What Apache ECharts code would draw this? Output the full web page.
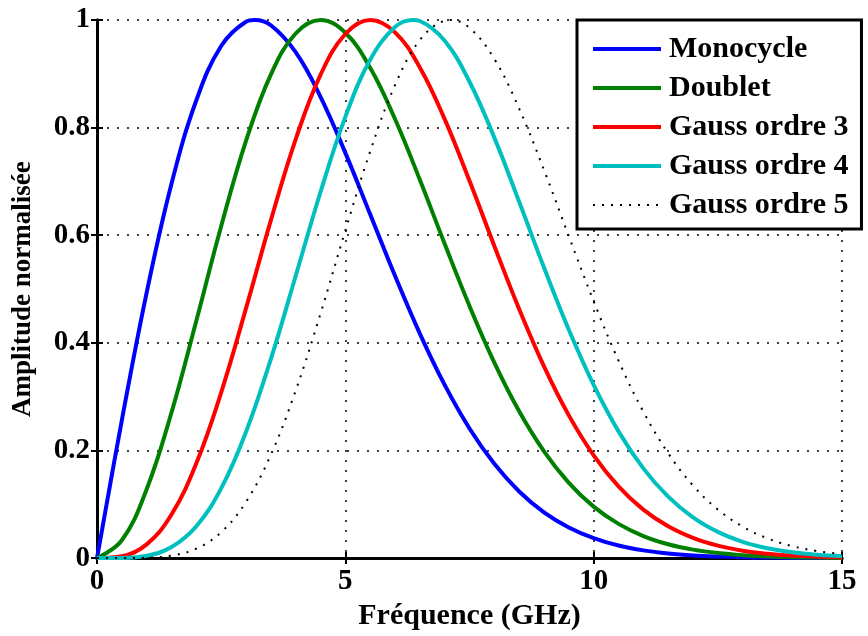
<!DOCTYPE html>
<html>
<head>
<meta charset="utf-8">
<script src="https://cdn.jsdelivr.net/npm/echarts@6/dist/echarts.min.js"></script>
<style>
html,body{margin:0;padding:0;background:#fff;}
#chart{width:868px;height:636px;}
</style>
</head>
<body>
<div id="chart"></div>
<script>
// Frequency (GHz)
var freq = [0,0.5,1,1.5,2,2.5,3,3.5,4,4.5,5,5.5,6,6.5,7,7.5,8,8.5,9,9.5,10,10.5,11,11.5,12,12.5,13,13.5,14,14.5,15];
// Normalised amplitudes
var monocycle = [0,0.2561,0.4935,0.6958,0.8508,0.9516,0.9967,0.9902,0.9402,0.8573,0.7531,0.6390,0.5246,0.4172,0.3218,0.2409,0.1752,0.1238,0.0850,0.0568,0.0369,0.0234,0.0144,0.0086,0.0050,0.0029,0.0016,0.0009,0.0004,0.0002,0.0001];
var doublet = [0,0.0332,0.1279,0.2706,0.4411,0.6167,0.7752,0.8985,0.9749,1.0000,0.9762,0.9111,0.8160,0.7031,0.5840,0.4685,0.3633,0.2728,0.1984,0.1399,0.0957,0.0636,0.0410,0.0257,0.0157,0.0093,0.0053,0.0030,0.0016,0.0009,0.0004];
var gauss3 = [0,0.0033,0.0255,0.0810,0.1761,0.3077,0.4641,0.6276,0.7782,0.8980,0.9740,1.0000,0.9771,0.9119,0.8158,0.7011,0.5801,0.4627,0.3563,0.2652,0.1910,0.1332,0.0900,0.0590,0.0375,0.0231,0.0138,0.0081,0.0046,0.0025,0.0013];
var gauss4 = [0,0.0003,0.0043,0.0205,0.0593,0.1295,0.2344,0.3698,0.5242,0.6804,0.8200,0.9261,0.9870,0.9981,0.9615,0.8853,0.7814,0.6622,0.5400,0.4243,0.3217,0.2355,0.1668,0.1142,0.0757,0.0487,0.0303,0.0183,0.0107,0.0061,0.0034];
var gauss5 = [0,0.0000,0.0006,0.0046,0.0176,0.0481,0.1044,0.1921,0.3111,0.4543,0.6084,0.7558,0.8788,0.9627,0.9988,0.9853,0.9276,0.8353,0.7212,0.5981,0.4773,0.3670,0.2722,0.1949,0.1349,0.0903,0.0585,0.0367,0.0223,0.0131,0.0075];
// Peak positions (GHz) and peak amplitude of each curve
var peakFreq = [3.18,4.5,5.5,6.36,7.11];
var peakAmp = [1,1,1,1,1];

var seriesNames = ['Monocycle','Doublet','Gauss ordre 3','Gauss ordre 4','Gauss ordre 5'];
var xTickLabels = ['0','5','10','15'];
var yTickLabels = ['0','0.2','0.4','0.6','0.8','1'];
var xTitle = 'Fréquence (GHz)';
var yTitle = 'Amplitude normalisée';

var FONT = '"Liberation Serif","Times New Roman",Times,serif';

function pairs(ys, k){
  var pts = freq.map(function(f,i){ return [f, ys[i]]; });
  if (freq.indexOf(peakFreq[k]) < 0) pts.push([peakFreq[k], peakAmp[k]]);
  pts.sort(function(a,b){ return a[0]-b[0]; });
  return pts;
}

var chart = echarts.init(document.getElementById('chart'), null, {renderer:'canvas'});

var axisLineStyle = {show:true, lineStyle:{color:'#000', width:3}};
var gridLine = {show:true, lineStyle:{color:'#000', width:1.5, type:[2,8]}};

function lineSeries(k, data, color, width, type){
  return {
    name:seriesNames[k], type:'line', data:pairs(data, k), showSymbol:false, symbol:'none',
    smooth:0.4, clip:true,
    lineStyle:{color:color, width:width, type:type||'solid'},
    itemStyle:{color:color},
    z:3
  };
}

var option = {
  animation:false,
  backgroundColor:'#fff',
  grid:{left:97, right:26, top:20, bottom:69, containLabel:false},
  legend:{
    orient:'vertical', left:577, top:20,
    padding:[14,13,9,14],
    itemWidth:68, itemHeight:14, itemGap:9,
    itemStyle:{opacity:0, color:'rgba(0,0,0,0)', borderWidth:0},
    lineStyle:{width:'inherit'},
    backgroundColor:'#fff', borderColor:'#000', borderWidth:3, borderRadius:0,
    textStyle:{fontFamily:FONT, fontWeight:'bold', fontSize:30, color:'#000', padding:[0,0,0,3]},
    data:seriesNames,
    z:10
  },
  xAxis:[{
    type:'value', min:0, max:15, interval:5, position:'bottom',
    axisLine:axisLineStyle,
    axisTick:{show:true, inside:true, length:6, lineStyle:{color:'#000', width:2}},
    axisLabel:{fontFamily:FONT, fontWeight:'bold', fontSize:29, color:'#000', margin:9,
      formatter:function(v){ return xTickLabels[Math.round(v/5)]; }},
    splitLine:gridLine,
    name:xTitle, nameLocation:'middle', nameGap:31,
    nameTextStyle:{fontFamily:FONT, fontWeight:'bold', fontSize:30, color:'#000'}
  },{
    type:'value', min:0, max:15, interval:5, position:'top',
    axisLine:axisLineStyle,
    axisTick:{show:true, inside:true, length:6, lineStyle:{color:'#000', width:2}},
    axisLabel:{show:false}, splitLine:{show:false}
  }],
  yAxis:[{
    type:'value', min:0, max:1, interval:0.2, position:'left',
    axisLine:axisLineStyle,
    axisTick:{show:true, inside:true, length:6, lineStyle:{color:'#000', width:2}},
    axisLabel:{fontFamily:FONT, fontWeight:'bold', fontSize:29, color:'#000', margin:7,
      formatter:function(v){ return yTickLabels[Math.round(v/0.2)]; }},
    splitLine:gridLine,
    name:yTitle, nameLocation:'middle', nameGap:60, nameRotate:90,
    nameTextStyle:{fontFamily:FONT, fontWeight:'bold', fontSize:27, color:'#000'}
  },{
    type:'value', min:0, max:1, interval:0.2, position:'right',
    axisLine:axisLineStyle,
    axisTick:{show:true, inside:true, length:6, lineStyle:{color:'#000', width:2}},
    axisLabel:{show:false}, splitLine:{show:false}
  }],
  series:[
    lineSeries(0, monocycle, '#0000ff', 4),
    lineSeries(1, doublet, '#008000', 4),
    lineSeries(2, gauss3, '#ff0000', 4),
    lineSeries(3, gauss4, '#00bfbf', 4),
    lineSeries(4, gauss5, '#000000', 2, [2,7])
  ]
};
chart.setOption(option);
</script>
</body>
</html>
